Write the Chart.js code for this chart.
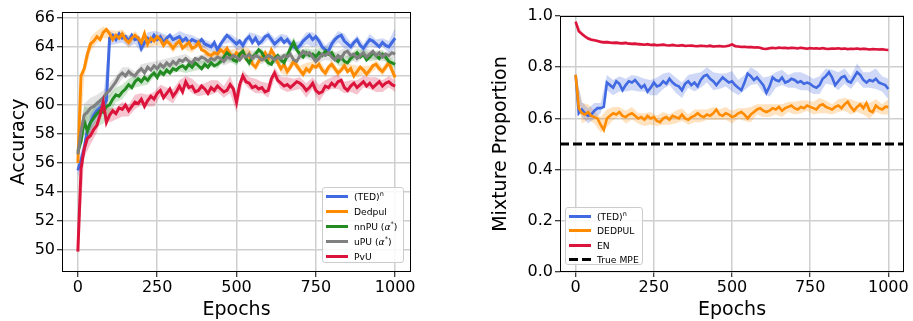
<!DOCTYPE html>
<html>
<head>
<meta charset="utf-8">
<script src="https://cdn.jsdelivr.net/npm/chart.js@4.4.0/dist/chart.umd.min.js"></script>
<style>
  body { margin: 0; background: #fff; font-family: "DejaVu Sans", sans-serif; }
  #page { position: relative; width: 913px; height: 321px; overflow: hidden; }
  #accChart { position: absolute; left: 0; top: 0; }
  #mpeChart { position: absolute; left: 456px; top: 0; }
  .legend { position: absolute; background: rgba(255,255,255,0.85); border: 1px solid #ccc; border-radius: 3px;
            font-size: 9.2px; color: #000; box-sizing: border-box; }
  .legend .row { position: absolute; left: 0; display: flex; align-items: center; height: 14px; white-space: nowrap; }
  .legend .sw { width: 22px; height: 3px; margin-left: 3px; margin-right: 6px; }
  .legend .lab sup { font-size: 6.5px; vertical-align: 4px; line-height: 0; }
</style>
</head>
<body>
<div id="page">
  <canvas id="accChart" width="456" height="321"></canvas>
  <canvas id="mpeChart" width="457" height="321"></canvas>

  <div class="legend" style="left:322px; top:187px; width:82px; height:76px;">
    <div class="row" style="top:1px"><span class="sw" style="background:#4169E1"></span><span class="lab">(TED)<sup>n</sup></span></div>
    <div class="row" style="top:16px"><span class="sw" style="background:#FF8C00"></span><span class="lab">Dedpul</span></div>
    <div class="row" style="top:31px"><span class="sw" style="background:#228B22"></span><span class="lab">nnPU (<i>α</i><sup>*</sup>)</span></div>
    <div class="row" style="top:46px"><span class="sw" style="background:#808080"></span><span class="lab">uPU (<i>α</i><sup>*</sup>)</span></div>
    <div class="row" style="top:61px"><span class="sw" style="background:#DC143C"></span><span class="lab">PvU</span></div>
  </div>

  <div class="legend" style="left:565px; top:207px; width:78px; height:58px;">
    <div class="row" style="top:1px"><span class="sw" style="background:#4169E1"></span><span class="lab">(TED)<sup>n</sup></span></div>
    <div class="row" style="top:15.5px"><span class="sw" style="background:#FF8C00"></span><span class="lab">DEDPUL</span></div>
    <div class="row" style="top:30px"><span class="sw" style="background:#DC143C"></span><span class="lab">EN</span></div>
    <div class="row" style="top:44.5px"><span class="sw" style="background:repeating-linear-gradient(to right,#000 0 9px,transparent 9px 13px)"></span><span class="lab">True MPE</span></div>
  </div>
</div>

<script>
// epochs sampled every 10, bands every 20
const epochs = [];
for (let e = 0; e <= 1000; e += 10) epochs.push(e);

const xTicks = [0, 250, 500, 750, 1000];
const accTicks = [50, 52, 54, 56, 58, 60, 62, 64, 66];
const mpeTicks = [0, 0.2, 0.4, 0.6, 0.8, 1.0];

// ---- left: accuracy ----
const tedAcc = [55.5,56.2,57.0,58.3,58.8,59.3,59.6,59.8,59.9,60.3,
  64.6,64.8,64.5,64.9,64.6,64.7,64.4,64.8,64.5,64.6,
  63.9,64.3,64.6,64.4,64.8,64.5,64.7,64.3,64.6,64.8,
  64.5,64.6,64.7,64.4,64.6,64.3,64.5,64.4,64.3,64.5,
  64.2,64.1,64.0,64.3,63.8,64.2,64.5,64.8,64.6,64.4,
  64.2,64.4,64.1,64.5,64.7,64.3,64.6,64.2,64.4,64.7,
  64.8,64.5,64.2,64.4,64.6,64.3,64.5,64.2,64.0,63.9,
  64.1,64.4,64.6,64.8,64.5,64.7,64.4,64.0,63.8,63.7,
  64.2,64.5,64.7,64.8,64.4,64.2,64.0,64.3,64.5,64.1,
  63.9,64.2,64.5,64.4,64.2,64.0,64.3,64.1,64.0,64.3,64.6];
const dedpulAcc = [56.0,62.0,62.5,63.5,64.2,64.4,64.7,64.5,65.0,65.2,
  64.9,64.5,64.8,64.6,64.9,64.5,64.3,64.6,64.8,64.6,
  64.3,64.9,64.2,64.6,64.4,64.7,64.5,64.1,64.4,64.2,
  63.9,64.2,64.4,63.9,64.1,64.3,63.9,64.0,64.3,63.8,
  63.7,63.5,63.4,63.6,63.5,63.8,63.6,63.9,63.5,63.3,
  63.6,63.4,63.7,63.2,63.5,62.8,62.6,63.0,63.3,63.6,
  63.2,63.8,63.4,62.9,62.5,62.8,62.3,62.6,63.0,62.7,
  62.4,62.1,62.5,62.3,62.7,62.6,62.8,62.4,62.2,62.6,
  62.8,62.5,62.2,62.4,62.7,62.3,62.5,62.0,62.3,62.6,
  62.4,62.1,62.4,62.7,62.8,62.5,62.3,62.6,62.9,62.4,61.9];
const nnpuAcc = [56.8,57.5,58.9,58.2,58.8,59.1,59.4,59.6,59.5,59.9,
  60.0,60.4,60.7,60.6,60.9,61.1,61.4,61.2,61.6,61.8,
  61.6,61.9,61.7,62.0,62.2,61.9,62.3,62.1,62.4,62.2,
  62.5,62.4,62.6,62.7,62.5,62.8,62.6,62.9,62.7,62.5,
  62.8,62.6,62.9,62.7,62.8,63.0,63.3,63.6,63.4,63.1,
  63.0,63.5,63.7,63.2,62.9,63.3,63.5,63.8,63.6,63.2,
  62.9,62.8,63.2,63.4,63.1,62.9,63.4,63.9,64.3,63.8,
  63.5,63.3,63.6,63.4,63.5,63.3,63.6,63.4,63.7,63.5,
  63.6,63.2,63.0,63.3,63.0,62.9,63.2,63.4,63.6,63.3,
  63.5,63.1,63.3,63.6,63.4,63.2,63.5,63.3,63.0,62.9,62.8];
const upuAcc = [56.6,58.2,59.3,59.5,59.8,59.9,60.1,60.3,60.5,60.8,
  61.0,61.3,61.6,62.0,62.2,62.0,62.3,62.1,62.0,62.3,
  62.5,62.2,62.6,62.4,62.7,62.5,62.8,62.6,62.9,62.7,
  63.0,62.8,63.1,63.0,63.2,63.0,62.9,63.2,63.1,63.3,
  63.2,63.0,63.2,63.1,63.3,63.2,63.0,63.3,63.2,63.4,
  63.3,63.1,63.4,63.3,63.5,63.2,63.4,63.3,63.1,63.2,
  63.4,63.3,63.1,63.3,63.2,63.4,63.3,63.5,63.1,63.0,
  63.4,63.7,63.5,63.6,63.3,63.0,63.2,63.5,63.4,63.6,
  63.3,63.1,63.4,63.2,63.6,63.7,63.4,63.5,63.2,63.4,
  63.6,63.3,63.5,63.7,63.4,63.6,63.3,63.5,63.4,63.6,63.5];
const pvuAcc = [49.9,55.6,57.0,57.7,57.9,58.3,58.6,59.3,60.2,58.8,
  59.3,59.6,59.4,59.8,59.7,60.0,59.6,59.9,60.2,60.1,
  60.4,59.9,60.3,60.6,60.4,60.8,61.0,60.5,60.8,61.1,
  60.6,60.9,61.3,60.9,61.6,61.2,61.3,60.9,61.0,61.3,
  61.1,60.8,61.2,61.0,61.3,61.1,60.9,61.0,61.4,61.1,
  60.2,61.4,62.0,61.6,61.5,61.2,61.3,61.1,61.2,60.9,
  61.0,61.8,62.2,61.7,61.5,61.3,61.4,61.2,61.4,61.6,
  61.5,61.3,61.0,61.2,61.5,61.0,60.8,60.9,61.3,61.2,
  61.5,61.3,61.6,61.7,61.2,61.0,61.3,61.5,61.2,61.4,
  61.6,61.3,61.5,61.2,61.4,61.6,61.3,61.5,61.6,61.4,61.3];

// half width of the shaded bands, one value per 20 epochs
const tedAccSpread = [0.5,0.6,0.6,0.5,0.5,0.5,0.3,0.3,0.4,0.3,0.3,0.4,0.3,0.3,0.2,0.3,0.4,0.3,0.3,0.3,
  0.3,0.3,0.2,0.3,0.3,0.4,0.3,0.3,0.3,0.3,0.3,0.4,0.3,0.3,0.3,0.3,0.4,0.5,0.3,0.3,
  0.3,0.4,0.5,0.3,0.3,0.3,0.4,0.3,0.3,0.4,0.7];
const dedpulAccSpread = [0.4,0.6,0.5,0.4,0.4,0.3,0.3,0.3,0.4,0.3,0.3,0.3,0.3,0.4,0.3,0.3,0.3,0.3,0.3,0.3,
  0.3,0.3,0.3,0.4,0.3,0.3,0.3,0.4,0.3,0.3,0.3,0.3,0.3,0.3,0.3,0.3,0.4,0.3,0.3,0.3,
  0.3,0.3,0.3,0.3,0.4,0.3,0.3,0.3,0.3,0.3,0.4];
const nnpuAccSpread = [0.6,1.0,1.0,0.9,0.8,0.7,0.5,0.5,0.4,0.4,0.3,0.3,0.3,0.3,0.3,0.3,0.3,0.3,0.3,0.3,
  0.3,0.3,0.3,0.3,0.4,0.3,0.3,0.3,0.3,0.3,0.3,0.3,0.3,0.3,0.4,0.3,0.3,0.3,0.3,0.3,
  0.3,0.3,0.3,0.3,0.3,0.3,0.3,0.3,0.3,0.3,0.3];
const upuAccSpread = [0.5,0.8,0.7,0.6,0.5,0.5,0.4,0.4,0.3,0.3,0.3,0.3,0.3,0.3,0.3,0.3,0.3,0.3,0.3,0.3,
  0.3,0.3,0.3,0.3,0.3,0.3,0.3,0.3,0.3,0.3,0.3,0.3,0.3,0.3,0.3,0.3,0.3,0.3,0.3,0.3,
  0.3,0.3,0.3,0.3,0.3,0.3,0.3,0.3,0.3,0.3,0.3];
const pvuAccSpread = [0.3,0.6,0.6,0.5,0.5,0.5,0.4,0.5,0.4,0.5,0.4,0.4,0.5,0.4,0.4,0.5,0.4,0.4,0.5,0.4,
  0.4,0.5,0.4,0.4,0.6,0.7,0.4,0.4,0.5,0.4,0.5,0.4,0.4,0.5,0.4,0.4,0.5,0.4,0.6,0.4,
  0.4,0.5,0.4,0.4,0.5,0.4,0.4,0.5,0.4,0.4,0.4];

// ---- right: mixture proportion ----
const tedMpe = [0.77,0.62,0.635,0.62,0.61,0.615,0.63,0.64,0.64,0.645,
  0.74,0.73,0.72,0.745,0.735,0.71,0.73,0.745,0.74,0.75,
  0.735,0.72,0.73,0.705,0.72,0.74,0.725,0.73,0.745,0.735,
  0.755,0.74,0.73,0.725,0.71,0.735,0.745,0.73,0.74,0.725,
  0.75,0.765,0.77,0.755,0.745,0.73,0.745,0.76,0.75,0.74,
  0.745,0.73,0.72,0.71,0.74,0.775,0.765,0.75,0.76,0.745,
  0.73,0.70,0.725,0.76,0.75,0.745,0.76,0.74,0.745,0.755,
  0.75,0.74,0.745,0.735,0.74,0.735,0.725,0.72,0.73,0.755,
  0.765,0.78,0.76,0.73,0.745,0.76,0.765,0.745,0.74,0.76,
  0.78,0.77,0.75,0.74,0.75,0.745,0.755,0.74,0.735,0.73,0.715];
const dedpulMpe = [0.77,0.64,0.62,0.615,0.625,0.61,0.605,0.60,0.575,0.555,
  0.60,0.61,0.62,0.615,0.625,0.61,0.605,0.615,0.62,0.61,
  0.60,0.605,0.595,0.61,0.60,0.605,0.59,0.585,0.60,0.605,
  0.595,0.61,0.605,0.60,0.615,0.60,0.595,0.605,0.61,0.62,
  0.61,0.605,0.615,0.61,0.62,0.635,0.615,0.61,0.62,0.615,
  0.605,0.61,0.62,0.625,0.615,0.60,0.615,0.625,0.635,0.64,
  0.63,0.625,0.63,0.64,0.635,0.645,0.63,0.64,0.645,0.65,
  0.64,0.635,0.645,0.64,0.65,0.645,0.64,0.635,0.65,0.655,
  0.645,0.64,0.635,0.645,0.65,0.64,0.655,0.665,0.645,0.63,
  0.645,0.655,0.64,0.66,0.63,0.625,0.65,0.64,0.635,0.645,0.645];
const enMpe = [0.978,0.94,0.93,0.92,0.912,0.907,0.905,0.902,0.899,0.897,
  0.898,0.896,0.895,0.896,0.894,0.893,0.895,0.892,0.891,0.892,
  0.89,0.889,0.888,0.89,0.887,0.888,0.886,0.887,0.888,0.886,
  0.885,0.887,0.885,0.884,0.886,0.883,0.884,0.885,0.883,0.882,
  0.884,0.883,0.882,0.884,0.881,0.882,0.883,0.881,0.882,0.884,
  0.889,0.882,0.881,0.879,0.88,0.878,0.879,0.877,0.878,0.876,
  0.872,0.871,0.874,0.876,0.874,0.877,0.875,0.876,0.874,0.876,
  0.875,0.873,0.876,0.874,0.872,0.875,0.873,0.874,0.872,0.875,
  0.872,0.871,0.873,0.872,0.874,0.871,0.873,0.87,0.872,0.871,
  0.873,0.87,0.872,0.871,0.869,0.871,0.87,0.869,0.87,0.868,0.867];
const trueMpe = 0.5;

const tedMpeSpread = [0.01,0.03,0.03,0.03,0.02,0.03,0.03,0.03,0.025,0.03,0.03,0.025,0.03,0.035,0.03,0.025,0.03,0.03,0.025,0.035,
  0.03,0.03,0.035,0.03,0.025,0.04,0.03,0.03,0.035,0.025,0.03,0.04,0.03,0.03,0.025,0.03,0.035,0.03,0.03,0.035,
  0.03,0.03,0.035,0.03,0.025,0.035,0.03,0.03,0.04,0.03,0.04];
const dedpulMpeSpread = [0.01,0.04,0.03,0.025,0.03,0.035,0.025,0.02,0.025,0.025,0.02,0.025,0.025,0.02,0.025,0.02,0.025,0.025,0.02,0.025,
  0.025,0.02,0.025,0.02,0.025,0.025,0.02,0.025,0.03,0.02,0.025,0.025,0.02,0.025,0.02,0.025,0.025,0.02,0.025,0.03,
  0.025,0.02,0.025,0.025,0.03,0.02,0.025,0.03,0.025,0.02,0.03];
const enMpeSpread = [0.004,0.008,0.006,0.006,0.005,0.006,0.005,0.006,0.005,0.005,0.006,0.005,0.005,0.006,0.005,0.005,0.006,0.005,0.005,0.006,
  0.005,0.005,0.006,0.005,0.005,0.006,0.005,0.005,0.006,0.005,0.005,0.006,0.005,0.005,0.006,0.005,0.005,0.006,0.005,0.005,
  0.006,0.005,0.005,0.006,0.005,0.005,0.006,0.005,0.005,0.006,0.005];

const FONT = 'DejaVu Sans';

function pts(vals) {
  return vals.map((v, i) => ({ x: epochs[i], y: v }));
}
function bandPts(vals, spread, sign) {
  return spread.map((s, k) => ({ x: epochs[2 * k], y: vals[2 * k] + sign * s }));
}
function seriesSets(vals, spread, color, fillColor, width, order) {
  return [
    { data: bandPts(vals, spread, -1), borderWidth: 0, pointRadius: 0, fill: false, order: 20 },
    { data: bandPts(vals, spread, 1), borderWidth: 0, pointRadius: 0, fill: '-1', backgroundColor: fillColor, order: 20 },
    { data: pts(vals), borderColor: color, borderWidth: width, pointRadius: 0, fill: false, tension: 0, order: order }
  ];
}

const frame = {
  id: 'frame',
  afterDraw(chart) {
    const a = chart.chartArea, ctx = chart.ctx;
    ctx.save();
    ctx.strokeStyle = '#000';
    ctx.lineWidth = 1;
    ctx.strokeRect(Math.round(a.left) + 0.5, Math.round(a.top) + 0.5,
      Math.round(a.right - a.left) - 1, Math.round(a.bottom - a.top) - 1);
    ctx.restore();
  }
};

function axisX(height) {
  return {
    type: 'linear', min: -50, max: 1050,
    afterBuildTicks: s => { s.ticks = xTicks.map(v => ({ value: v })); },
    afterFit: s => { s.height = height; },
    ticks: { autoSkip: false, maxRotation: 0, color: '#000', font: { family: FONT, size: 16 }, padding: 1,
             callback: v => String(v) },
    grid: { color: '#cfcfcf', lineWidth: 1.5, tickLength: 5, tickColor: '#000', tickWidth: 1 },
    border: { display: false },
    title: { display: true, text: 'Epochs', color: '#000', font: { family: FONT, size: 19 }, padding: { top: 0, bottom: 0 } }
  };
}
function axisY(min, max, tickVals, width, title, fmt) {
  return {
    min: min, max: max,
    afterBuildTicks: s => { s.ticks = tickVals.map(v => ({ value: v })); },
    afterFit: s => { s.width = width; },
    ticks: { autoSkip: false, color: '#000', font: { family: FONT, size: 16 }, padding: 2, callback: fmt },
    grid: { color: '#cfcfcf', lineWidth: 1.5, tickLength: 5, tickColor: '#000', tickWidth: 1 },
    border: { display: false },
    title: { display: true, text: title, color: '#000', font: { family: FONT, size: 19 }, padding: { top: 0, bottom: 0 } }
  };
}

new Chart(document.getElementById('accChart'), {
  type: 'line',
  data: {
    datasets: [].concat(
      seriesSets(tedAcc, tedAccSpread, '#4169E1', 'rgba(65,105,225,0.25)', 3, 5),
      seriesSets(dedpulAcc, dedpulAccSpread, '#FF8C00', 'rgba(255,140,0,0.25)', 3, 4),
      seriesSets(nnpuAcc, nnpuAccSpread, '#228B22', 'rgba(34,139,34,0.22)', 3, 3),
      seriesSets(upuAcc, upuAccSpread, '#808080', 'rgba(128,128,128,0.22)', 3, 2),
      seriesSets(pvuAcc, pvuAccSpread, '#DC143C', 'rgba(220,20,60,0.25)', 3, 1)
    )
  },
  options: {
    responsive: false, animation: false, devicePixelRatio: 1,
    layout: { padding: { left: 8, right: 45, top: 12, bottom: 0 } },
    plugins: { legend: { display: false }, tooltip: { enabled: false } },
    scales: {
      x: axisX(49),
      y: axisY(48.5, 66.4, accTicks, 54, 'Accuracy', v => String(v))
    }
  },
  plugins: [frame]
});

new Chart(document.getElementById('mpeChart'), {
  type: 'line',
  data: {
    datasets: [].concat(
      seriesSets(tedMpe, tedMpeSpread, '#4169E1', 'rgba(65,105,225,0.25)', 2.6, 5),
      seriesSets(dedpulMpe, dedpulMpeSpread, '#FF8C00', 'rgba(255,140,0,0.25)', 2.6, 4),
      seriesSets(enMpe, enMpeSpread, '#DC143C', 'rgba(220,20,60,0.25)', 2.6, 3),
      [{ data: [{ x: -50, y: trueMpe }, { x: 1050, y: trueMpe }], borderColor: '#000', borderWidth: 3,
         borderDash: [9, 4], pointRadius: 0, fill: false, order: 2 }]
    )
  },
  options: {
    responsive: false, animation: false, devicePixelRatio: 1,
    layout: { padding: { left: 34, right: 9, top: 16, bottom: 0 } },
    plugins: { legend: { display: false }, tooltip: { enabled: false } },
    scales: {
      x: axisX(49),
      y: axisY(0, 1, mpeTicks, 70, 'Mixture Proportion', v => v.toFixed(1))
    }
  },
  plugins: [frame]
});
</script>
</body>
</html>
